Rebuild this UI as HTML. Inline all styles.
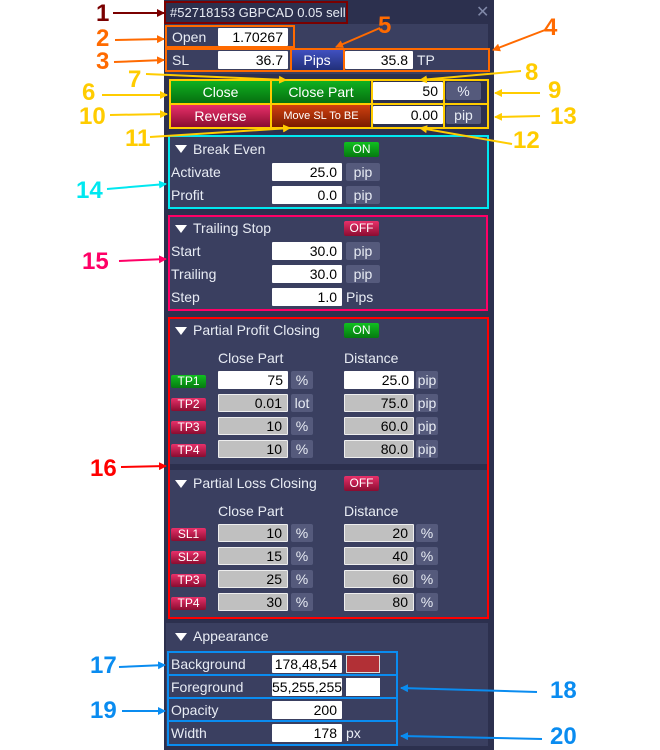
<!DOCTYPE html>
<html><head><meta charset="utf-8"><style>
body{margin:0;width:660px;height:750px;background:#fff;position:relative;overflow:hidden;font-family:"Liberation Sans",sans-serif}
div{position:absolute;box-sizing:border-box}
.t{color:#e8ecf4;font-size:14px;line-height:18px;white-space:nowrap}
.in{background:#fff;color:#000;font-size:14px;line-height:18px;height:18px;text-align:right;padding-right:5px;border-radius:1px}
.g{background:#c0c0c0;border:1px solid #eee;line-height:16px}
.u{background:#555a7c;color:#e8ecf4;font-size:14px;line-height:18px;height:18px;text-align:center;border-radius:2px}
.sec{background:#3a3f60}
.on{background:linear-gradient(#10c020,#067a10);color:#fff;font-size:12px;text-align:center;line-height:15px;height:15px;width:35px;border-radius:2px}
.off{background:linear-gradient(#e8306a,#8a0c30);color:#fff;font-size:12px;text-align:center;line-height:15px;height:15px;width:35px;border-radius:2px}
.tp{width:35px;height:13px;font-size:12px;line-height:13px;color:#fff;text-align:center;border-radius:2px}
.b{border:2px solid}
.n{font-weight:bold;font-size:24px;line-height:26px}
.tri{width:0;height:0;border-left:6px solid transparent;border-right:6px solid transparent;border-top:8px solid #fff}
</style></head><body>
<div style="left:164px;top:0;width:330px;height:750px;background:#2c304e"></div>
<div class="t" style="left:170px;top:4px;font-size:13px">#52718153 GBPCAD 0.05 sell</div>
<div style="left:476px;top:2px;color:#8088a8;font-size:16px">✕</div>
<div class="sec" style="left:166px;top:24px;width:322px;height:50px"></div>
<div class="t" style="left:172px;top:28px">Open</div>
<div class="in" style="left:218px;top:28px;width:70px">1.70267</div>
<div class="t" style="left:172px;top:51px">SL</div>
<div class="in" style="left:218px;top:51px;width:70px">36.7</div>
<div style="left:291px;top:50px;width:52px;height:20px;background:linear-gradient(#4050c0,#22307a);color:#fff;font-size:14px;line-height:20px;text-align:center">Pips</div>
<div class="in" style="left:345px;top:51px;width:68px">35.8</div>
<div class="t" style="left:417px;top:51px">TP</div>
<div style="left:171px;top:81px;width:99px;height:22px;background:linear-gradient(#10b020,#067010);color:#fff;font-size:14px;line-height:22px;text-align:center">Close</div>
<div style="left:272px;top:81px;width:98px;height:22px;background:linear-gradient(#10b020,#067010);color:#fff;font-size:14px;line-height:22px;text-align:center">Close Part</div>
<div class="in" style="left:373px;top:82px;width:70px">50</div>
<div class="u" style="left:446px;top:82px;width:35px">%</div>
<div style="left:171px;top:105px;width:99px;height:22px;background:linear-gradient(#e8306a,#8a0c30);color:#fff;font-size:14px;line-height:22px;text-align:center">Reverse</div>
<div style="left:272px;top:105px;width:98px;height:22px;background:linear-gradient(#d04010,#7a1c00);color:#fff;font-size:11px;line-height:22px;text-align:center">Move SL To BE</div>
<div class="in" style="left:373px;top:106px;width:70px">0.00</div>
<div class="u" style="left:446px;top:106px;width:35px">pip</div>
<div class="sec" style="left:168px;top:135px;width:320px;height:73px"></div>
<div class="tri" style="left:175px;top:145px"></div>
<div class="t" style="left:193px;top:140px">Break Even</div>
<div class="on" style="left:344px;top:142px">ON</div>
<div class="t" style="left:171px;top:163px">Activate</div>
<div class="in" style="left:272px;top:163px;width:70px">25.0</div>
<div class="u" style="left:346px;top:163px;width:34px">pip</div>
<div class="t" style="left:171px;top:186px">Profit</div>
<div class="in" style="left:272px;top:186px;width:70px">0.0</div>
<div class="u" style="left:346px;top:186px;width:34px">pip</div>
<div class="sec" style="left:168px;top:216px;width:320px;height:94px"></div>
<div class="tri" style="left:175px;top:225px"></div>
<div class="t" style="left:193px;top:219px">Trailing Stop</div>
<div class="off" style="left:344px;top:221px">OFF</div>
<div class="t" style="left:171px;top:242px">Start</div>
<div class="in" style="left:272px;top:242px;width:70px">30.0</div>
<div class="u" style="left:346px;top:242px;width:34px">pip</div>
<div class="t" style="left:171px;top:265px">Trailing</div>
<div class="in" style="left:272px;top:265px;width:70px">30.0</div>
<div class="u" style="left:346px;top:265px;width:34px">pip</div>
<div class="t" style="left:171px;top:288px">Step</div>
<div class="in" style="left:272px;top:288px;width:70px">1.0</div>
<div class="t" style="left:346px;top:288px">Pips</div>
<div class="sec" style="left:168px;top:317px;width:320px;height:147px"></div>
<div class="sec" style="left:168px;top:470px;width:320px;height:148px"></div>
<div class="tri" style="left:175px;top:327px"></div>
<div class="t" style="left:193px;top:321px">Partial Profit Closing</div>
<div class="on" style="left:344px;top:323px">ON</div>
<div class="t" style="left:218px;top:349px">Close Part</div>
<div class="t" style="left:344px;top:349px">Distance</div>
<div class="tp" style="left:171px;top:375px;background:linear-gradient(#10c020,#067a10)">TP1</div>
<div class="in" style="left:218px;top:371px;width:70px">75</div>
<div class="u" style="left:291px;top:371px;width:22px">%</div>
<div class="in" style="left:344px;top:371px;width:70px">25.0</div>
<div class="u" style="left:416px;top:371px;width:22px">pip</div>
<div class="tp" style="left:171px;top:398px;background:linear-gradient(#e8306a,#8a0c30)">TP2</div>
<div class="in g" style="left:218px;top:394px;width:70px">0.01</div>
<div class="u" style="left:291px;top:394px;width:22px">lot</div>
<div class="in g" style="left:344px;top:394px;width:70px">75.0</div>
<div class="u" style="left:416px;top:394px;width:22px">pip</div>
<div class="tp" style="left:171px;top:421px;background:linear-gradient(#e8306a,#8a0c30)">TP3</div>
<div class="in g" style="left:218px;top:417px;width:70px">10</div>
<div class="u" style="left:291px;top:417px;width:22px">%</div>
<div class="in g" style="left:344px;top:417px;width:70px">60.0</div>
<div class="u" style="left:416px;top:417px;width:22px">pip</div>
<div class="tp" style="left:171px;top:444px;background:linear-gradient(#e8306a,#8a0c30)">TP4</div>
<div class="in g" style="left:218px;top:440px;width:70px">10</div>
<div class="u" style="left:291px;top:440px;width:22px">%</div>
<div class="in g" style="left:344px;top:440px;width:70px">80.0</div>
<div class="u" style="left:416px;top:440px;width:22px">pip</div>
<div class="tri" style="left:175px;top:480px"></div>
<div class="t" style="left:193px;top:474px">Partial Loss Closing</div>
<div class="off" style="left:344px;top:476px">OFF</div>
<div class="t" style="left:218px;top:502px">Close Part</div>
<div class="t" style="left:344px;top:502px">Distance</div>
<div class="tp" style="left:171px;top:528px;background:linear-gradient(#e8306a,#8a0c30)">SL1</div>
<div class="in g" style="left:218px;top:524px;width:70px">10</div>
<div class="u" style="left:291px;top:524px;width:22px">%</div>
<div class="in g" style="left:344px;top:524px;width:70px">20</div>
<div class="u" style="left:416px;top:524px;width:22px">%</div>
<div class="tp" style="left:171px;top:551px;background:linear-gradient(#e8306a,#8a0c30)">SL2</div>
<div class="in g" style="left:218px;top:547px;width:70px">15</div>
<div class="u" style="left:291px;top:547px;width:22px">%</div>
<div class="in g" style="left:344px;top:547px;width:70px">40</div>
<div class="u" style="left:416px;top:547px;width:22px">%</div>
<div class="tp" style="left:171px;top:574px;background:linear-gradient(#e8306a,#8a0c30)">TP3</div>
<div class="in g" style="left:218px;top:570px;width:70px">25</div>
<div class="u" style="left:291px;top:570px;width:22px">%</div>
<div class="in g" style="left:344px;top:570px;width:70px">60</div>
<div class="u" style="left:416px;top:570px;width:22px">%</div>
<div class="tp" style="left:171px;top:597px;background:linear-gradient(#e8306a,#8a0c30)">TP4</div>
<div class="in g" style="left:218px;top:593px;width:70px">30</div>
<div class="u" style="left:291px;top:593px;width:22px">%</div>
<div class="in g" style="left:344px;top:593px;width:70px">80</div>
<div class="u" style="left:416px;top:593px;width:22px">%</div>
<div class="sec" style="left:166px;top:623px;width:322px;height:123px"></div>
<div class="tri" style="left:175px;top:633px"></div>
<div class="t" style="left:193px;top:627px">Appearance</div>
<div class="t" style="left:171px;top:655px">Background</div>
<div class="in" style="left:272px;top:655px;width:70px">178,48,54</div>
<div style="left:346px;top:655px;width:34px;height:18px;background:#b23036;border:1px solid #ddd"></div>
<div class="t" style="left:171px;top:678px">Foreground</div>
<div class="in" style="left:272px;top:678px;width:70px;overflow:hidden;text-align:left;padding:0">55,255,255</div>
<div style="left:346px;top:678px;width:34px;height:18px;background:#fff"></div>
<div class="t" style="left:171px;top:701px">Opacity</div>
<div class="in" style="left:272px;top:701px;width:70px">200</div>
<div class="t" style="left:171px;top:724px">Width</div>
<div class="in" style="left:272px;top:724px;width:70px">178</div>
<div class="t" style="left:346px;top:724px">px</div>
<div class="b" style="left:164px;top:1px;width:184px;height:23px;border-color:#7a0000"></div>
<div class="b" style="left:165px;top:25px;width:130px;height:23px;border-color:#ff6a00"></div>
<div class="b" style="left:165px;top:48px;width:325px;height:24px;border-color:#ff6a00"></div>
<div class="b" style="left:290px;top:48px;width:55px;height:24px;border-color:#ff6a00"></div>
<div class="b" style="left:169px;top:79px;width:103px;height:50px;border-color:#ffcc00"></div>
<div class="b" style="left:270px;top:79px;width:103px;height:50px;border-color:#ffcc00"></div>
<div class="b" style="left:371px;top:79px;width:74px;height:50px;border-color:#ffcc00"></div>
<div class="b" style="left:443px;top:79px;width:46px;height:50px;border-color:#ffcc00"></div>
<div style="left:169px;top:103px;width:320px;height:2px;background:#ffcc00"></div>
<div class="b" style="left:168px;top:135px;width:321px;height:74px;border-color:#00e8f0"></div>
<div class="b" style="left:168px;top:215px;width:320px;height:96px;border-color:#ff0066"></div>
<div class="b" style="left:168px;top:317px;width:321px;height:302px;border-color:#ff0000"></div>
<div class="b" style="left:167px;top:651px;width:231px;height:25px;border-color:#0a8cf0"></div>
<div class="b" style="left:167px;top:674px;width:231px;height:25px;border-color:#0a8cf0"></div>
<div class="b" style="left:167px;top:697px;width:231px;height:25px;border-color:#0a8cf0"></div>
<div class="b" style="left:167px;top:720px;width:231px;height:26px;border-color:#0a8cf0"></div>
<div class="n" style="left:96px;top:1px;color:#7a0000">1</div>
<div class="n" style="left:96px;top:26px;color:#ff6a00">2</div>
<div class="n" style="left:96px;top:49px;color:#ff6a00">3</div>
<div class="n" style="left:544px;top:15px;color:#ff6a00">4</div>
<div class="n" style="left:378px;top:13px;color:#ff6a00">5</div>
<div class="n" style="left:82px;top:80px;color:#ffcc00">6</div>
<div class="n" style="left:128px;top:67px;color:#ffcc00">7</div>
<div class="n" style="left:525px;top:60px;color:#ffcc00">8</div>
<div class="n" style="left:548px;top:78px;color:#ffcc00">9</div>
<div class="n" style="left:79px;top:104px;color:#ffcc00">10</div>
<div class="n" style="left:125px;top:126px;color:#ffcc00">11</div>
<div class="n" style="left:513px;top:128px;color:#ffcc00">12</div>
<div class="n" style="left:550px;top:104px;color:#ffcc00">13</div>
<div class="n" style="left:76px;top:178px;color:#00e8f0">14</div>
<div class="n" style="left:82px;top:249px;color:#ff0066">15</div>
<div class="n" style="left:90px;top:456px;color:#ff0000">16</div>
<div class="n" style="left:90px;top:653px;color:#0a8cf0">17</div>
<div class="n" style="left:550px;top:678px;color:#0a8cf0">18</div>
<div class="n" style="left:90px;top:698px;color:#0a8cf0">19</div>
<div class="n" style="left:550px;top:724px;color:#0a8cf0">20</div>
<svg width="660" height="750" style="position:absolute;left:0;top:0">
<defs>
<marker id="a1" markerWidth="8" markerHeight="8" refX="7" refY="4" orient="auto" markerUnits="userSpaceOnUse"><path d="M0,0L8,4L0,8z" fill="#7a0000"/></marker>
<marker id="a2" markerWidth="8" markerHeight="8" refX="7" refY="4" orient="auto" markerUnits="userSpaceOnUse"><path d="M0,0L8,4L0,8z" fill="#ff6a00"/></marker>
<marker id="a3" markerWidth="8" markerHeight="8" refX="7" refY="4" orient="auto" markerUnits="userSpaceOnUse"><path d="M0,0L8,4L0,8z" fill="#ffcc00"/></marker>
<marker id="a4" markerWidth="8" markerHeight="8" refX="7" refY="4" orient="auto" markerUnits="userSpaceOnUse"><path d="M0,0L8,4L0,8z" fill="#00e8f0"/></marker>
<marker id="a5" markerWidth="8" markerHeight="8" refX="7" refY="4" orient="auto" markerUnits="userSpaceOnUse"><path d="M0,0L8,4L0,8z" fill="#ff0066"/></marker>
<marker id="a6" markerWidth="8" markerHeight="8" refX="7" refY="4" orient="auto" markerUnits="userSpaceOnUse"><path d="M0,0L8,4L0,8z" fill="#ff0000"/></marker>
<marker id="a7" markerWidth="8" markerHeight="8" refX="7" refY="4" orient="auto" markerUnits="userSpaceOnUse"><path d="M0,0L8,4L0,8z" fill="#0a8cf0"/></marker>
</defs>
<g stroke-width="2" fill="none">
<line x1="113" y1="13" x2="164" y2="13" stroke="#7a0000" marker-end="url(#a1)"/>
<line x1="115" y1="40" x2="164" y2="39" stroke="#ff6a00" marker-end="url(#a2)"/>
<line x1="114" y1="62" x2="164" y2="60" stroke="#ff6a00" marker-end="url(#a2)"/>
<line x1="545" y1="30" x2="493" y2="50" stroke="#ff6a00" marker-end="url(#a2)"/>
<line x1="380" y1="28" x2="336" y2="47" stroke="#ff6a00" marker-end="url(#a2)"/>
<line x1="102" y1="95" x2="167" y2="95" stroke="#ffcc00" marker-end="url(#a3)"/>
<line x1="146" y1="74" x2="286" y2="80" stroke="#ffcc00" marker-end="url(#a3)"/>
<line x1="521" y1="71" x2="420" y2="80" stroke="#ffcc00" marker-end="url(#a3)"/>
<line x1="540" y1="93" x2="495" y2="93" stroke="#ffcc00" marker-end="url(#a3)"/>
<line x1="110" y1="115" x2="167" y2="114" stroke="#ffcc00" marker-end="url(#a3)"/>
<line x1="150" y1="137" x2="290" y2="128" stroke="#ffcc00" marker-end="url(#a3)"/>
<line x1="512" y1="144" x2="420" y2="128" stroke="#ffcc00" marker-end="url(#a3)"/>
<line x1="540" y1="116" x2="495" y2="117" stroke="#ffcc00" marker-end="url(#a3)"/>
<line x1="107" y1="189" x2="166" y2="184" stroke="#00e8f0" marker-end="url(#a4)"/>
<line x1="119" y1="261" x2="166" y2="259" stroke="#ff0066" marker-end="url(#a5)"/>
<line x1="121" y1="467" x2="166" y2="466" stroke="#ff0000" marker-end="url(#a6)"/>
<line x1="119" y1="667" x2="165" y2="665" stroke="#0a8cf0" marker-end="url(#a7)"/>
<line x1="537" y1="692" x2="401" y2="688" stroke="#0a8cf0" marker-end="url(#a7)"/>
<line x1="122" y1="711" x2="165" y2="711" stroke="#0a8cf0" marker-end="url(#a7)"/>
<line x1="542" y1="739" x2="401" y2="736" stroke="#0a8cf0" marker-end="url(#a7)"/>
</g>
</svg>
</body></html>
